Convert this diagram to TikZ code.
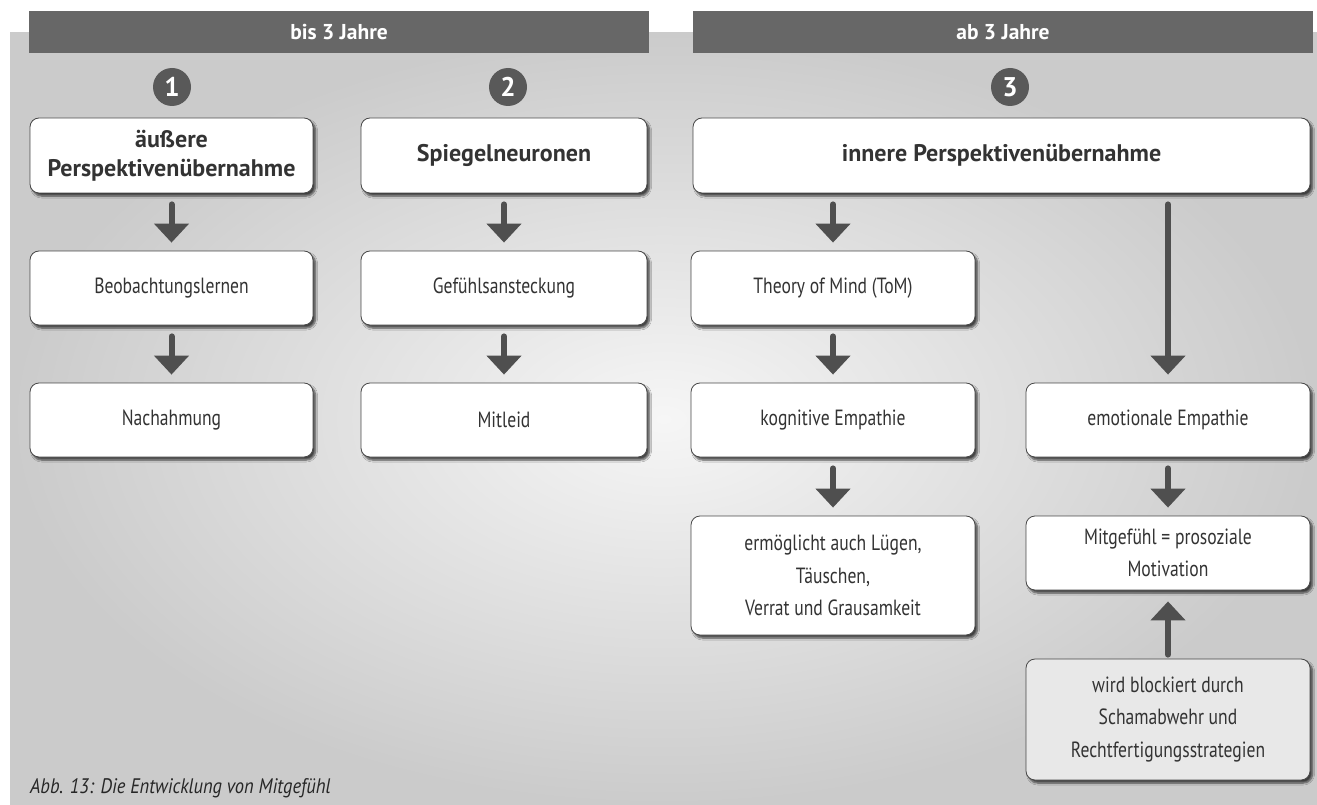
\documentclass[tikz,border=0pt]{standalone}
\usepackage{fontspec}
\setmainfont{PT Sans}
\newfontfamily\bodyfont{PT Sans}[FakeStretch=0.8]
\newfontfamily\capfont{PT Sans}[FakeStretch=0.88]
\usetikzlibrary{arrows.meta,shadows.blur}
\definecolor{hdr}{HTML}{676767}
\definecolor{circ}{HTML}{595959}
\definecolor{arrc}{HTML}{4F4F4F}
\definecolor{txt}{HTML}{333333}
\definecolor{panelin}{HTML}{F6F6F6}
\definecolor{panelout}{HTML}{CBCBCB}
\tikzset{
  stepbox/.style={draw=black!72, line width=0.8pt, rounded corners=9pt, fill=white,
    align=center, text=txt, inner sep=0pt,
    font=\bodyfont\fontsize{22}{32.5}\selectfont,
    blur shadow={shadow xshift=2.5pt, shadow yshift=-3pt, shadow blur steps=6, shadow opacity=70}},
  titlebox/.style={stepbox, font=\fontsize{24}{29}\selectfont\bfseries},
  hdrbar/.style={fill=hdr, text=white, font=\fontsize{21.5}{24}\selectfont\bfseries,
    minimum width=620pt, minimum height=42pt, inner sep=0pt},
  numcirc/.style={circle, fill=circ, text=white, minimum size=38pt, inner sep=0pt,
    font=\fontsize{27}{27}\selectfont\bfseries},
  arr/.style={draw=arrc, line width=6pt, line cap=round,
    -{Triangle[width=34pt,length=19pt]}, fill=arrc}
}
\begin{document}
\begin{tikzpicture}[x=1pt,y=-1pt]
\useasboundingbox (0,0) rectangle (1317,805);
\fill[white] (0,0) rectangle (1317,805);
\shade[inner color=panelin, outer color=panelout] (10,33) rectangle (1317,805);
% header bars
\node[hdrbar] (h1) at (339,32) {bis 3 Jahre};
\node[hdrbar] (h2) at (1003,32) {ab 3 Jahre};
% numbers
\node[numcirc] (n1) at (172,87) {1};
\node[numcirc] (n2) at (508,87) {2};
\node[numcirc] (n3) at (1010,87) {3};
% row 1
\node[titlebox, minimum width=283pt, minimum height=75pt] (b1) at (171.5,155.5) {äußere\\Perspektivenübernahme};
\node[titlebox, minimum width=286pt, minimum height=75pt] (b2) at (504,155.5) {Spiegelneuronen};
\node[titlebox, minimum width=617pt, minimum height=75pt] (b3) at (1001.5,155.5) {innere Perspektivenübernahme};
% row 2
\node[stepbox, minimum width=283pt, minimum height=74pt] (beob) at (171.5,288) {Beobachtungslernen};
\node[stepbox, minimum width=286pt, minimum height=74pt] (gef) at (504,288) {Gefühlsansteckung};
\node[stepbox, minimum width=284pt, minimum height=74pt] (tom) at (833,288) {Theory of Mind (ToM)};
% row 3
\node[stepbox, minimum width=283pt, minimum height=74pt] (nach) at (171.5,420) {Nachahmung};
\node[stepbox, minimum width=286pt, minimum height=74pt] (mitl) at (504,420) {Mitleid};
\node[stepbox, minimum width=284pt, minimum height=74pt] (kog) at (833,420) {kognitive Empathie};
\node[stepbox, minimum width=284pt, minimum height=74pt] (emo) at (1168,420) {emotionale Empathie};
% row 4
\node[stepbox, minimum width=284pt, minimum height=119pt] (erm) at (833,575.5) {ermöglicht auch Lügen,\\Täuschen,\\Verrat und Grausamkeit};
\node[stepbox, minimum width=284pt, minimum height=74pt] (mitg) at (1168,553) {Mitgefühl = prosoziale\\Motivation};
\node[stepbox, fill=black!9, minimum width=284pt, minimum height=121pt] (block) at (1168,719.5) {wird blockiert durch\\Schamabwehr und\\Rechtfertigungsstrategien};
% arrows
\draw[arr] ([yshift=-11pt]b1.south) -- ([yshift=8pt]beob.north);
\draw[arr] ([yshift=-11pt]beob.south) -- ([yshift=8pt]nach.north);
\draw[arr] ([yshift=-11pt]b2.south) -- ([yshift=8pt]gef.north);
\draw[arr] ([yshift=-11pt]gef.south) -- ([yshift=8pt]mitl.north);
\draw[arr] ([yshift=-11pt]b3.south -| tom.north) -- ([yshift=8pt]tom.north);
\draw[arr] ([yshift=-11pt]tom.south) -- ([yshift=8pt]kog.north);
\draw[arr] ([yshift=-11pt]kog.south) -- ([yshift=8pt]erm.north);
\draw[arr] ([yshift=-11pt]b3.south -| emo.north) -- ([yshift=8pt]emo.north);
\draw[arr] ([yshift=-11pt]emo.south) -- ([yshift=8pt]mitg.north);
\draw[arr] ([yshift=4pt]block.north) -- ([yshift=-11pt]mitg.south);
% caption
\node[anchor=base west, inner sep=0pt, text=black!85, font=\capfont\fontsize{21}{24}\selectfont\itshape] (cap) at (30,793) {Abb. 13: Die Entwicklung von Mitgefühl};
\end{tikzpicture}
\end{document}
